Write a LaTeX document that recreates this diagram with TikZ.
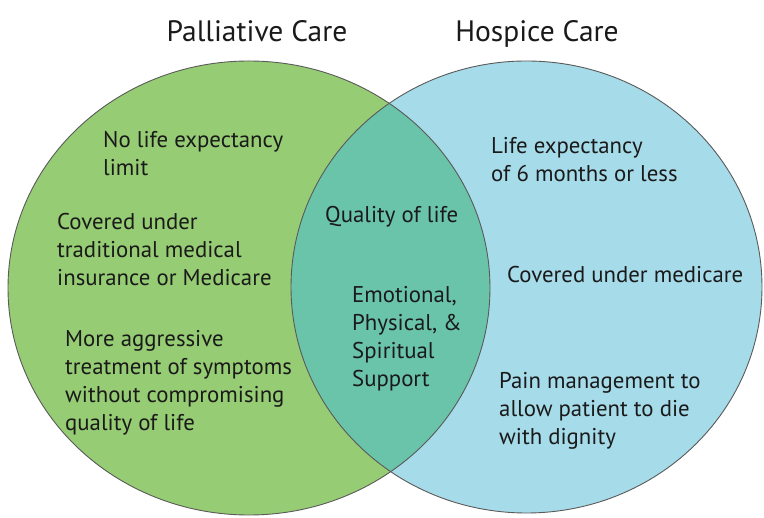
\documentclass[tikz,border=0pt]{standalone}
\usepackage{fontspec}
\setmainfont{PT Sans}
\definecolor{palgreen}{HTML}{96CC73}
\definecolor{hosblue}{HTML}{A6DBE9}
\definecolor{lensgreen}{HTML}{6AC4A9}
\definecolor{rimgrey}{HTML}{5A5A5A}
\definecolor{txt}{HTML}{1A1A1A}
\begin{document}
\begin{tikzpicture}[x=1pt,y=-1pt,
  titletext/.style={font=\fontsize{29.5}{33}\selectfont, text=txt, inner sep=0pt},
  bodytext/.style={font=\fontsize{22.8}{28}\selectfont, text=txt, align=left, anchor=west, inner sep=0pt},
  rim/.style={draw=rimgrey, line width=0.9pt}]
\useasboundingbox (0,0) rectangle (764,518);
% fills
\fill[palgreen] (249,288) ellipse [x radius=241pt, y radius=227pt];
\fill[hosblue] (526.5,287) ellipse [x radius=235.5pt, y radius=226pt];
\begin{scope}
  \clip (249,288) ellipse [x radius=241pt, y radius=227pt];
  \fill[lensgreen] (526.5,287) ellipse [x radius=235.5pt, y radius=226pt];
\end{scope}
\draw[rim] (249,288) ellipse [x radius=241pt, y radius=227pt];
\draw[rim] (526.5,287) ellipse [x radius=235.5pt, y radius=226pt];
% titles
\node[titletext, anchor=base] (tpal) at (257,42) {Palliative Care};
\node[titletext, anchor=base] (thos) at (537,42) {Hospice Care};
% left
\node[bodytext] (p1) at (103,154) {No life expectancy\\limit};
\node[bodytext] (p2) at (57,250) {Covered under\\traditional medical\\insurance or Medicare};
\node[bodytext] (p3) at (65,383) {More aggressive\\treatment of symptoms\\without compromising\\quality of life};
% center
\node[bodytext] (c1) at (325,217) {Quality of life};
\node[bodytext] (c2) at (352,339) {Emotional,\\Physical, \&\\Spiritual\\Support};
% right
\node[bodytext] (h1) at (491,160) {Life expectancy\\of 6 months or less};
\node[bodytext] (h2) at (507,275) {Covered under medicare};
\node[bodytext] (h3) at (499,411) {Pain management to\\allow patient to die\\with dignity};
\end{tikzpicture}
\end{document}
